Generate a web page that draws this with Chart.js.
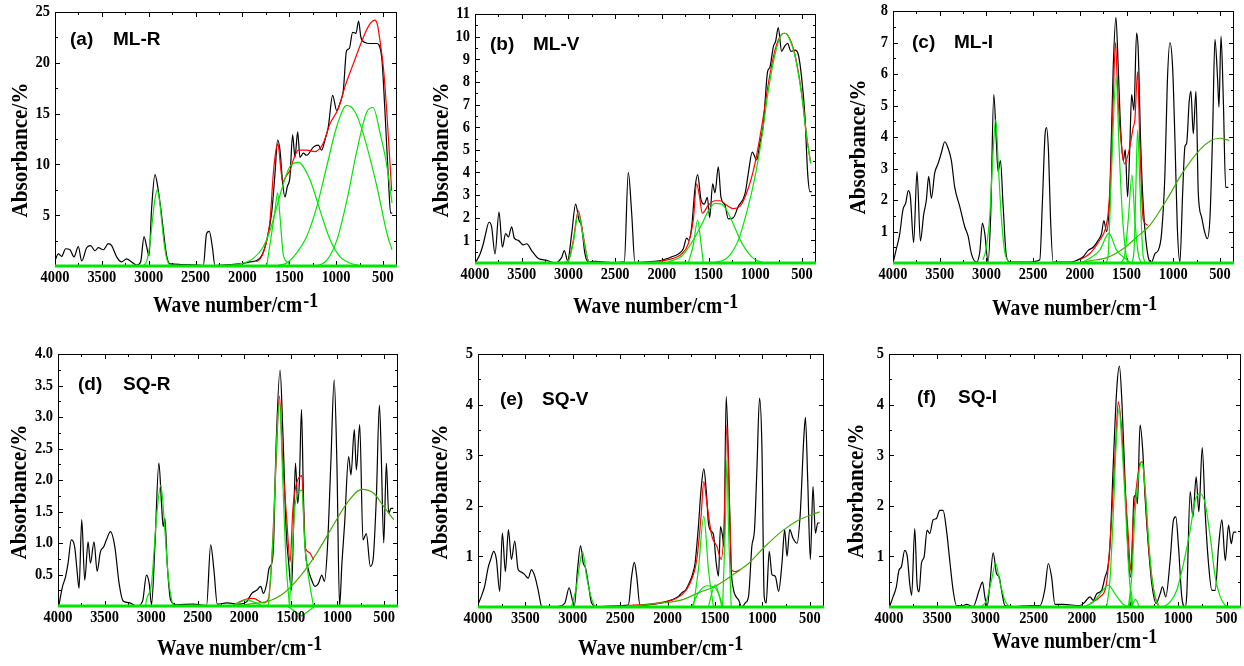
<!DOCTYPE html>
<html>
<head>
<meta charset="utf-8">
<script src="https://cdn.jsdelivr.net/npm/chart.js@4/dist/chart.umd.min.js"></script>
<style>
  body { margin: 0; background: #fff; width: 1244px; height: 666px; position: relative; overflow: hidden; }
  canvas { position: absolute; }
</style>
</head>
<body>
<canvas id="ca" width="415" height="320" style="left:0px;top:0px"></canvas>
<canvas id="cb" width="415" height="320" style="left:415px;top:0px"></canvas>
<canvas id="cc" width="414" height="320" style="left:830px;top:0px"></canvas>
<canvas id="cd" width="415" height="336" style="left:0px;top:330px"></canvas>
<canvas id="ce" width="415" height="336" style="left:415px;top:330px"></canvas>
<canvas id="cf" width="414" height="336" style="left:830px;top:330px"></canvas>
<script>
// eixo x comum (numero de onda, cm-1)
const xTicks = [4000, 3500, 3000, 2500, 2000, 1500, 1000, 500];
const baseLine = [[4000, 0], [350, 0]];

// (a) ML-R
const ticksA = [5, 10, 15, 20, 25];
const specA = [[4000,0.56],[3964,1.2],[3929,0.95],[3886,1.7],[3840,1.6],[3797,0.9],[3751,1.9],[3715,0.5],[3662,1.8],[3619,2.0],[3573,1.5],[3538,1.8],[3484,1.6],[3431,2.2],[3395,2.0],[3342,0.9],[3289,0.4],[3235,0.7],[3182,0.4],[3129,0.1],[3086,0.4],[3050,2.9],[3022,1.9],[2997,1.0],[2968,5.8],[2933,9.0],[2897,7.4],[2869,5.5],[2844,3.5],[2808,1.0],[2773,0.2],[2666,0.15],[2524,0.12],[2417,0.05],[2382,3.2],[2353,3.4],[2321,1.9],[2293,0.05],[2168,0.12],[2026,0.2],[1919,0.4],[1848,0.55],[1795,1.0],[1741,2.5],[1688,5.2],[1652,9.1],[1624,12.4],[1599,11.4],[1570,8.1],[1546,6.8],[1521,7.8],[1492,8.8],[1464,12.9],[1439,10.7],[1410,13.2],[1386,10.7],[1350,11.1],[1314,10.9],[1243,11.7],[1190,11.9],[1154,11.4],[1119,12.4],[1083,13.7],[1037,16.8],[994,15.3],[959,16.0],[923,17.3],[888,21.2],[859,21.4],[824,23.0],[788,22.9],[760,24.1],[735,22.5],[692,22.0],[639,21.9],[568,21.9],[514,20.6],[479,15.3],[443,8.8],[418,5.2],[400,5.2]];
const fitA = [[1850,0.4],[1790,1.0],[1741,2.5],[1705,4.5],[1670,9.1],[1640,11.5],[1620,12.0],[1595,10.0],[1570,8.3],[1530,8.9],[1492,9.4],[1450,10.6],[1403,11.4],[1314,11.4],[1225,11.25],[1180,11.5],[1136,12.1],[1065,14.0],[976,15.5],[900,17.8],[816,19.9],[710,22.5],[640,23.8],[585,24.2],[560,23.8],[532,22.2],[495,19.5],[460,15.3],[407,7.4]];
const gA1 = [[3060,0],[3020,0.5],[2990,2.0],[2960,4.5],[2935,6.5],[2910,7.5],[2885,6.5],[2860,4.3],[2835,2.2],[2810,0.8],[2780,0.1],[2760,0]];
const gA2 = [[1741,0],[1688,3.2],[1652,5.5],[1624,7.2],[1599,4.9],[1563,1.1],[1510,0.3],[1490,0]];
const gA3 = [[2150,0.05],[2025,0.2],[1884,0.75],[1777,1.9],[1705,3.5],[1634,5.8],[1563,8.1],[1492,9.8],[1403,10.2],[1279,8.5],[1172,5.5],[1065,2.6],[958,0.9],[852,0.3],[750,0.05]];
const gA4 = [[1620,0.05],[1527,0.3],[1420,1.3],[1314,2.9],[1207,5.8],[1100,9.8],[994,13.7],[887,15.8],[800,15.2],[713,13.1],[564,7.8],[457,3.2],[403,1.6]];
const gA5 = [[1300,0],[1204,0.05],[1097,0.6],[990,2.6],[884,6.5],[777,11.4],[670,15.2],[606,15.6],[531,13.1],[457,9.8],[403,6.2]];

// (b) ML-V
const ticksB = [1, 2, 3, 4, 5, 6, 7, 8, 9, 10, 11];
const specB = [[3989,0.05],[3946,0.4],[3911,0.85],[3886,1.3],[3850,1.8],[3822,1.6],[3786,0.4],[3743,2.25],[3707,0.7],[3672,1.3],[3643,1.15],[3608,1.6],[3579,1.1],[3536,1.0],[3483,0.8],[3447,0.85],[3394,0.55],[3322,0.2],[3233,0.12],[3144,0],[3072,0.25],[3044,0.55],[3008,0.1],[2965,1.3],[2923,2.6],[2887,1.9],[2858,1.6],[2823,0.4],[2787,0.05],[2716,0.07],[2502,0.02],[2402,0.05],[2359,4.0],[2323,2.2],[2288,0.02],[2145,0.05],[2002,0.12],[1895,0.27],[1824,0.4],[1770,0.63],[1735,1.1],[1710,1.0],[1681,1.6],[1645,3.3],[1617,3.9],[1581,2.8],[1546,2.6],[1513,2.9],[1488,2.0],[1456,3.5],[1431,3.1],[1396,4.25],[1367,2.9],[1324,2.55],[1289,1.95],[1235,2.0],[1182,2.5],[1110,3.05],[1075,3.95],[1032,4.9],[985,4.55],[950,5.3],[914,6.1],[868,8.45],[843,8.65],[807,9.55],[782,9.8],[754,10.4],[718,9.35],[689,9.55],[654,9.7],[618,9.35],[575,9.4],[539,9.2],[504,8.2],[468,6.45],[439,3.95],[414,3.15],[396,3.15]];
const fitB1 = [[3072,0],[3001,0.1],[2948,1.0],[2894,2.3],[2841,1.2],[2787,0.1],[2734,0]];
const fitB = [[2145,0.02],[1931,0.15],[1788,0.4],[1717,0.85],[1663,1.9],[1628,3.5],[1599,3.0],[1567,2.2],[1502,2.55],[1431,2.75],[1378,2.75],[1306,2.55],[1235,2.4],[1164,2.5],[1075,3.3],[1003,4.4],[932,6.0],[861,7.9],[789,9.4],[718,10.1],[682,10.15],[629,9.9],[575,9.2],[504,7.5],[450,5.6],[407,4.4]];
const gB1 = [[3072,0],[3001,0.1],[2948,0.9],[2894,2.2],[2841,1.1],[2787,0.1],[2734,0]];
const gB2 = [[1717,0],[1663,0.8],[1617,1.9],[1585,1.0],[1556,0]];
const gB3 = [[1931,0.05],[1788,0.3],[1681,0.9],[1574,1.7],[1502,2.3],[1431,2.63],[1360,2.6],[1289,2.2],[1217,1.55],[1146,0.9],[1075,0.45],[1003,0.15],[896,0]];
const gB4 = [[1431,0.03],[1324,0.15],[1253,0.45],[1182,1.0],[1075,2.5],[1003,3.8],[932,5.5],[861,7.6],[789,9.2],[718,10.1],[682,10.15],[629,9.85],[575,9.15],[504,7.45],[450,5.6],[407,4.4]];

// (c) ML-I
const ticksC = [1, 2, 3, 4, 5, 6, 7, 8];
const specC = [[3993,0.08],[3964,0.45],[3929,0.9],[3893,1.7],[3864,1.9],[3836,2.3],[3814,2.1],[3779,0.65],[3743,2.9],[3707,0.7],[3671,1.55],[3643,2.0],[3618,2.75],[3589,2.05],[3554,2.85],[3518,3.15],[3482,3.5],[3446,3.85],[3411,3.65],[3375,3.25],[3339,2.4],[3286,1.8],[3232,1.15],[3196,0.85],[3161,0.3],[3107,0.03],[3071,0.35],[3043,1.27],[3018,0.95],[2982,0.03],[2954,1.55],[2921,5.35],[2893,3.8],[2875,2.9],[2850,3.25],[2821,1.8],[2786,0.2],[2750,0.03],[2536,0.03],[2429,0.1],[2400,2.0],[2372,4.1],[2357,4.3],[2335,3.5],[2315,1.5],[2286,0.03],[2107,0.03],[2036,0.08],[1964,0.2],[1911,0.4],[1857,0.5],[1804,0.72],[1768,0.93],[1743,1.35],[1714,1.0],[1679,2.2],[1643,6.2],[1614,7.8],[1589,6.2],[1564,4.3],[1536,3.25],[1514,3.6],[1489,2.1],[1464,3.8],[1446,5.35],[1421,4.85],[1393,7.3],[1375,6.75],[1350,3.9],[1321,1.8],[1293,0.72],[1257,0.08],[1232,0.03],[1196,0.3],[1161,0.4],[1125,0.95],[1089,2.85],[1064,5.7],[1036,7.0],[1007,6.2],[982,3.9],[957,1.15],[929,0.03],[900,2.2],[875,3.7],[857,3.8],[829,5.15],[811,5.45],[786,4.1],[757,5.45],[732,2.2],[696,1.45],[661,0.95],[636,0.77],[607,1.45],[579,4.1],[554,7.1],[525,5.8],[511,4.95],[489,7.2],[464,5.15],[439,2.4],[411,2.4]];
const fitC = [[2000,0.1],[1893,0.3],[1786,0.73],[1725,1.1],[1696,1.6],[1670,2.8],[1645,5.0],[1618,7.0],[1600,5.8],[1589,5.08],[1550,3.6],[1521,3.15],[1464,3.7],[1430,4.3],[1411,4.55],[1382,6.08],[1357,3.7],[1321,1.37],[1268,1.2]];
const gC1 = [[3036,0.1],[3000,0.5],[2964,1.5],[2929,3.5],[2900,4.55],[2871,3.0],[2839,1.4],[2804,0.35],[2768,0.05]];
const gC2 = [[1720,0],[1696,0.3],[1660,3.0],[1612,5.92],[1578,3.5],[1542,1.37],[1507,0.3],[1485,0]];
const gC3 = [[1990,0],[1893,0.15],[1786,0.41],[1689,0.94],[1607,0.41],[1518,0.15],[1450,0]];
const gC4 = [[1560,0],[1518,0.3],[1482,1.37],[1442,2.8],[1411,1.37],[1375,0.3],[1345,0]];
const gC5 = [[1440,0],[1418,0.52],[1400,2.43],[1382,4.23],[1357,2.43],[1328,0.41],[1300,0]];
const gC6 = [[2000,0.02],[1893,0.07],[1700,0.18],[1536,0.45],[1400,0.8],[1250,1.2],[1072,2.0],[893,2.9],[714,3.6],[600,3.88],[500,3.96],[400,3.89]];

// (d) SQ-R
const ticksD = [0.5, 1.0, 1.5, 2.0, 2.5, 3.0, 3.5, 4.0];
const specD = [[3989,0.02],[3953,0.3],[3918,0.47],[3892,0.68],[3857,1.05],[3821,0.94],[3796,0.57],[3774,0.28],[3745,1.37],[3713,0.41],[3677,1.02],[3652,0.68],[3613,1.02],[3580,0.55],[3545,0.86],[3509,0.94],[3480,1.05],[3437,1.18],[3390,0.94],[3344,0.36],[3301,0.08],[3229,0.05],[3157,0],[3093,0.07],[3050,0.49],[3021,0.36],[2996,0.02],[2960,0.94],[2917,2.27],[2889,1.63],[2871,1.26],[2853,1.39],[2828,0.68],[2792,0.1],[2727,0.02],[2548,0.03],[2405,0.01],[2361,0.97],[2326,0.57],[2290,0.03],[2189,0.05],[2046,0.03],[1974,0.07],[1920,0.2],[1867,0.25],[1824,0.31],[1795,0.2],[1759,0.36],[1734,0.6],[1705,0.68],[1687,0.94],[1659,2.53],[1616,3.74],[1587,2.8],[1551,1.21],[1523,0.68],[1494,0.25],[1472,1.21],[1451,2.27],[1426,1.63],[1408,2.0],[1386,3.12],[1365,1.74],[1347,0.94],[1311,0.57],[1276,0.41],[1240,0.31],[1204,0.36],[1168,0.49],[1140,0.39],[1107,0.94],[1071,2.27],[1035,3.59],[1006,2.27],[977,0],[952,0.68],[923,1.31],[880,2.37],[855,2.08],[819,2.8],[797,2.16],[761,2.88],[726,1.05],[690,1.15],[647,0.63],[618,0.73],[582,1.74],[550,3.19],[532,2.53],[503,1.0],[475,2.27],[450,1.47],[425,1.55],[400,1.55]];
const fitD = [[2117,0.02],[1974,0.11],[1903,0.12],[1795,0.05],[1741,0.11],[1705,0.73],[1659,2.27],[1623,3.33],[1587,2.27],[1544,1.37],[1508,0.7],[1480,1.5],[1455,1.84],[1383,2.07],[1347,0.94],[1300,0.85],[1258,0.73]];
const gD1 = [[3060,0],[3050,0.1],[2996,0.36],[2942,1.42],[2896,1.92],[2853,1.21],[2817,0.47],[2781,0.1],[2760,0]];
const gD2 = [[2153,0],[2060,0.05],[1974,0.1],[1880,0.05],[1795,0]];
const gD3 = [[1741,0],[1687,1.21],[1652,2.64],[1623,3.25],[1587,2.0],[1551,0.68],[1515,0]];
const gD4 = [[1515,0],[1480,1.0],[1455,1.6],[1383,1.84],[1347,0.9],[1311,0.47],[1258,0]];
const gD5 = [[1540,0],[1383,-0.16],[1240,0]];
const gD6 = [[2000,0.02],[1900,0.04],[1759,0.07],[1580,0.2],[1401,0.47],[1222,0.84],[1042,1.29],[899,1.63],[737,1.85],[611,1.79],[503,1.58],[396,1.37]];

// (e) SQ-V
const ticksE = [1, 2, 3, 4, 5];
const specE = [[3993,0.08],[3965,0.21],[3930,0.41],[3894,0.77],[3866,0.94],[3834,1.1],[3806,0.94],[3771,0.31],[3743,1.46],[3711,0.7],[3679,1.53],[3648,0.94],[3612,1.3],[3577,0.74],[3542,0.69],[3507,0.64],[3471,0.57],[3436,0.74],[3401,0.61],[3366,0.34],[3331,0.01],[3295,-0.05],[3260,0],[3154,0.01],[3084,0.08],[3038,0.38],[3013,0.21],[2985,0.01],[2950,0.74],[2918,1.21],[2890,0.87],[2865,0.77],[2837,0.47],[2802,0.08],[2749,0.01],[2485,0.03],[2414,0.04],[2379,0.61],[2351,0.88],[2326,0.61],[2291,0.03],[2203,0.04],[2062,0.08],[1956,0.14],[1886,0.21],[1851,0.28],[1808,0.34],[1773,0.47],[1738,0.64],[1710,0.87],[1675,1.59],[1647,2.32],[1618,2.73],[1593,2.32],[1569,1.66],[1541,1.5],[1516,1.43],[1487,0.87],[1463,0.61],[1442,1.59],[1420,1.4],[1406,1.2],[1382,4.16],[1357,2.85],[1332,0.87],[1304,0.34],[1280,0.21],[1252,0.14],[1216,0],[1181,0.08],[1146,0.21],[1111,1.2],[1083,1.53],[1058,2.71],[1030,4.13],[1005,3.18],[981,0.21],[960,0.08],[928,1.1],[899,0.64],[864,0.61],[829,0.31],[793,0.87],[765,1.53],[740,1.0],[712,1.53],[677,1.36],[635,1.26],[600,1.86],[564,3.31],[546,3.75],[522,2.52],[494,0.94],[466,2.38],[441,1.46],[416,1.66],[395,1.66]];
const fitE = [[2414,0.03],[2062,0.09],[1851,0.24],[1763,0.47],[1692,0.94],[1647,1.79],[1618,2.48],[1586,2.06],[1533,1.4],[1480,1.2],[1434,0.94],[1406,1.53],[1374,3.6],[1350,2.19],[1322,0.72],[1280,0.7],[1230,0.74]];
const gE1 = [[3013,0],[2961,0.41],[2925,0.87],[2897,1.1],[2855,0.61],[2809,0.21],[2767,0]];
const gE2 = [[1728,0],[1675,0.74],[1618,1.79],[1569,0.74],[1516,0]];
const gE3 = [[1745,0],[1675,0.28],[1586,0.42],[1498,0.38],[1410,0]];
const gE4 = [[1569,0],[1533,0.28],[1498,0.44],[1463,0.28],[1427,0]];
const gE5 = [[1420,0],[1392,1.53],[1374,2.91],[1357,1.53],[1329,0]];
const gE6 = [[2414,0.01],[2062,0.08],[1851,0.14],[1675,0.28],[1498,0.41],[1400,0.52],[1322,0.62],[1230,0.74],[1146,0.86],[970,1.2],[793,1.5],[617,1.72],[441,1.85],[395,1.88]];

// (f) SQ-I
const ticksF = [1, 2, 3, 4, 5];
const specF = [[3993,0.01],[3958,0.2],[3924,0.4],[3896,0.73],[3872,0.79],[3837,1.12],[3810,0.99],[3785,0.46],[3765,0.23],[3733,1.55],[3709,0.46],[3688,0.3],[3664,0.86],[3636,0.99],[3605,1.52],[3578,1.45],[3543,1.72],[3508,1.75],[3474,1.91],[3439,1.91],[3404,1.52],[3370,0.92],[3335,0.33],[3301,0.03],[3231,0.03],[3197,0.05],[3127,0.01],[3065,0.33],[3030,0.49],[3006,0.2],[2982,0.01],[2954,0.46],[2920,1.07],[2885,0.66],[2857,0.59],[2833,0.33],[2798,0.03],[2712,0.01],[2539,0.03],[2435,0.03],[2383,0.36],[2348,0.86],[2314,0.59],[2279,0.05],[2193,0.05],[2020,0.03],[1968,0.1],[1916,0.2],[1882,0.13],[1847,0.26],[1795,0.33],[1760,0.59],[1733,0.76],[1709,1.19],[1674,2.84],[1639,4.29],[1611,4.76],[1584,4.02],[1553,2.51],[1525,1.25],[1500,0.59],[1483,0.86],[1459,2.18],[1438,2.21],[1424,2.04],[1397,3.6],[1369,3.1],[1345,2.18],[1310,1.19],[1275,0.46],[1230,0.07],[1189,0.26],[1164,0.4],[1130,0.2],[1085,0.92],[1050,1.72],[1026,1.78],[998,1.19],[964,0.2],[929,0],[912,0.26],[877,2.28],[849,1.78],[815,2.57],[787,1.88],[752,3.15],[721,1.85],[687,0.86],[652,0.33],[617,0.33],[583,1.19],[548,1.72],[513,0.92],[479,1.62],[451,1.25],[427,1.48],[399,1.48]];
const fitF = [[1916,0.07],[1812,0.2],[1743,0.49],[1691,1.78],[1646,3.36],[1622,4.06],[1587,3.5],[1553,2.37],[1518,1.39],[1494,0.73],[1466,1.78],[1438,2.31],[1397,2.84],[1372,2.87],[1345,2.31],[1310,1.25],[1275,0.59],[1241,0.2],[1206,0.03]];
const gF1 = [[3041,0.01],[2989,0.13],[2937,0.53],[2895,0.87],[2850,0.49],[2798,0.13],[2747,0]];
const gF2 = [[1985,0],[1882,0.1],[1795,0.3],[1725,0.43],[1656,0.26],[1569,0.05],[1500,0]];
const gF3 = [[1743,0],[1709,0.53],[1674,1.85],[1646,3.17],[1615,3.92],[1587,3.3],[1553,2.18],[1518,0.86],[1483,0]];
const gF4 = [[1507,0],[1490,0.33],[1473,0]];
const gF5 = [[1483,0],[1445,0.15],[1403,0]];
const gF6 = [[1518,0],[1483,0.59],[1449,1.85],[1414,2.57],[1379,2.87],[1345,2.37],[1310,1.39],[1275,0.59],[1241,0.2],[1206,0.03],[1180,0]];
const gF7 = [[1154,0],[1085,0.1],[1016,0.33],[946,0.86],[877,1.52],[825,2.11],[773,2.24],[721,2.04],[669,1.39],[617,0.59],[565,0.2],[513,0.03],[479,0]];

// cores
const VERDE = '#00e600', VERDE_ESC = '#3fae00', VERM = '#ff0000', PRETO = '#000000';
const SERIF = '"Liberation Serif", "Times New Roman", serif';
const SANS = '"Liberation Sans", Arial, sans-serif';

function linha(arr, cor, larg, extra) {
    return Object.assign({
        data: arr.map(p => ({x: p[0], y: p[1]})),
        borderColor: cor,
        borderWidth: larg || 1.2,
        pointRadius: 0,
        showLine: true,
        fill: false,
        cubicInterpolationMode: 'monotone'
    }, extra || {});
}

// texto comprimido na horizontal
function txt(ctx, s, x, y, sx, align) {
    ctx.save();
    ctx.translate(x, y);
    ctx.scale(sx, 1);
    ctx.textAlign = align || 'left';
    ctx.fillText(s, 0, 0);
    ctx.restore();
}

// moldura, marcas, rotulos e titulos
const moldura = {
    id: 'moldura',
    beforeDatasetsDraw(chart, args, o) {
        const ctx = chart.ctx, a = chart.chartArea;
        const xs = chart.scales.x, ys = chart.scales.y;
        ctx.save();
        ctx.strokeStyle = PRETO;
        ctx.lineWidth = 1;
        ctx.strokeRect(a.left + 0.5, a.top + 0.5, a.right - a.left - 1, a.bottom - a.top - 1);
        ctx.beginPath();
        for (let v = 4000; v >= 350; v -= 250) {
            const px = Math.round(xs.getPixelForValue(v)) + 0.5;
            const len = v % 500 === 0 ? 5 : 3;
            ctx.moveTo(px, a.bottom); ctx.lineTo(px, a.bottom - len);
            ctx.moveTo(px, a.top); ctx.lineTo(px, a.top + len);
        }
        for (let v = o.minor; v < o.yMax; v += o.minor) {
            const py = Math.round(ys.getPixelForValue(v)) + 0.5;
            const major = o.yTicks.some(t => Math.abs(t - v) < 1e-6);
            const len = major ? 5 : 3;
            ctx.moveTo(a.left, py); ctx.lineTo(a.left + len, py);
            ctx.moveTo(a.right, py); ctx.lineTo(a.right - len, py);
        }
        ctx.stroke();
        ctx.restore();
    },
    afterDraw(chart, args, o) {
        const ctx = chart.ctx, a = chart.chartArea;
        const xs = chart.scales.x, ys = chart.scales.y;
        const ox = o.box[0], oy = o.box[1];
        ctx.save();
        ctx.fillStyle = PRETO;
        // rotulos dos eixos
        ctx.font = 'bold 17px ' + SERIF;
        ctx.textBaseline = 'alphabetic';
        xTicks.forEach(v => txt(ctx, String(v), xs.getPixelForValue(v), a.bottom + 16, 0.85, 'center'));
        ctx.textBaseline = 'middle';
        o.yTicks.forEach(v => txt(ctx, v.toFixed(o.dec), a.left - 5, ys.getPixelForValue(v), 0.85, 'right'));
        // titulo x
        ctx.textBaseline = 'alphabetic';
        ctx.font = 'bold 24px ' + SERIF;
        const xt = o.xTitle[0] - ox, yt = o.xTitle[1] - oy;
        txt(ctx, 'Wave number/cm', xt, yt, 0.82);
        const w = ctx.measureText('Wave number/cm').width * 0.82;
        ctx.font = 'bold 21px ' + SERIF;
        txt(ctx, '-1', xt + w + 1, yt - 5, 0.85);
        // titulo y
        ctx.font = 'bold 24px ' + SERIF;
        ctx.save();
        ctx.translate(o.yTitle[0] - ox, o.yTitle[1] - oy);
        ctx.rotate(-Math.PI / 2);
        ctx.scale(0.88, 1);
        ctx.textAlign = 'center';
        ctx.fillText('Absorbance/%', 0, 0);
        ctx.restore();
        // nome do painel
        ctx.font = 'bold 19px ' + SANS;
        ctx.textAlign = 'left';
        ctx.fillText(o.tag[0], o.tag[2] - ox, o.tag[4] - oy);
        ctx.fillText(o.tag[1], o.tag[3] - ox, o.tag[4] - oy);
        ctx.restore();
    }
};

function painel(id, cfg, conjuntos) {
    const [bx, by, bw, bh] = cfg.box;
    const [pl, pt, pr, pb] = cfg.plot;
    new Chart(document.getElementById(id), {
        type: 'scatter',
        data: {datasets: conjuntos},
        options: {
            responsive: false,
            animation: false,
            devicePixelRatio: 1,
            layout: {padding: {left: 0, bottom: 0, top: pt - by, right: bx + bw - pr}},
            plugins: {legend: {display: false}, tooltip: {enabled: false}, moldura: cfg},
            scales: {
                x: {
                    type: 'linear', reverse: true, min: 350, max: 4000,
                    grid: {display: false, drawTicks: false}, border: {display: false},
                    ticks: {display: false},
                    afterFit: s => { s.height = by + bh - pb; }
                },
                y: {
                    type: 'linear', min: 0, max: cfg.yMax,
                    grid: {display: false, drawTicks: false}, border: {display: false},
                    ticks: {display: false},
                    afterFit: s => { s.width = pl - bx; }
                }
            }
        },
        plugins: [moldura]
    });
}

const base = () => linha(baseLine, VERDE, 3, {clip: false});

painel('ca', {box: [0, 0, 415, 320], plot: [55, 12, 397, 266], yMax: 25, yTicks: ticksA, minor: 2.5, dec: 0,
    tag: ['(a)', 'ML-R', 70, 113, 45], xTitle: [153, 312], yTitle: [27, 150]},
    [base(), linha(gA1, VERDE), linha(gA2, VERDE), linha(gA3, VERDE), linha(gA4, VERDE), linha(gA5, VERDE),
     linha(fitA, VERM), linha(specA, PRETO)]);

painel('cb', {box: [415, 0, 415, 320], plot: [475, 14, 816, 263], yMax: 11, yTicks: ticksB, minor: 0.5, dec: 0,
    tag: ['(b)', 'ML-V', 490, 533, 50], xTitle: [573, 313], yTitle: [448, 150]},
    [base(), linha(gB1, VERDE), linha(gB2, VERDE), linha(gB3, VERDE), linha(gB4, VERDE),
     linha(fitB1, VERM), linha(fitB, VERM), linha(specB, PRETO)]);

painel('cc', {box: [830, 0, 414, 320], plot: [893, 11, 1234, 263], yMax: 8, yTicks: ticksC, minor: 0.5, dec: 0,
    tag: ['(c)', 'ML-I', 912, 954, 48], xTitle: [992, 315], yTitle: [865, 147]},
    [base(), linha(gC1, VERDE), linha(gC2, VERDE), linha(gC3, VERDE), linha(gC4, VERDE), linha(gC5, VERDE),
     linha(gC6, VERDE_ESC), linha(fitC, VERM), linha(specC, PRETO)]);

painel('cd', {box: [0, 330, 415, 336], plot: [58, 354, 398, 606], yMax: 4, yTicks: ticksD, minor: 0.25, dec: 1,
    tag: ['(d)', 'SQ-R', 78, 123, 390], xTitle: [157, 655], yTitle: [26, 492]},
    [base(), linha(gD1, VERDE), linha(gD2, VERDE), linha(gD3, VERDE), linha(gD4, VERDE),
     linha(gD5, VERDE, 1.2, {clip: false, cubicInterpolationMode: 'default', tension: 0}),
     linha(gD6, VERDE_ESC), linha(fitD, VERM), linha(specD, PRETO)]);

painel('ce', {box: [415, 330, 415, 336], plot: [478, 354, 824, 607], yMax: 5, yTicks: ticksE, minor: 0.5, dec: 0,
    tag: ['(e)', 'SQ-V', 500, 542, 405], xTitle: [578, 655], yTitle: [447, 492]},
    [base(), linha(gE1, VERDE), linha(gE2, VERDE), linha(gE3, VERDE), linha(gE4, VERDE), linha(gE5, VERDE),
     linha(gE6, VERDE_ESC), linha(fitE, VERM), linha(specE, PRETO)]);

painel('cf', {box: [830, 330, 414, 336], plot: [889, 354, 1241, 607], yMax: 5, yTicks: ticksF, minor: 0.5, dec: 0,
    tag: ['(f)', 'SQ-I', 917, 958, 403], xTitle: [992, 648], yTitle: [863, 491]},
    [base(), linha(gF1, VERDE), linha(gF2, VERDE), linha(gF3, VERDE), linha(gF4, VERDE), linha(gF5, VERDE),
     linha(gF6, VERDE), linha(gF7, VERDE), linha(fitF, VERM), linha(specF, PRETO)]);
</script>
</body>
</html>
